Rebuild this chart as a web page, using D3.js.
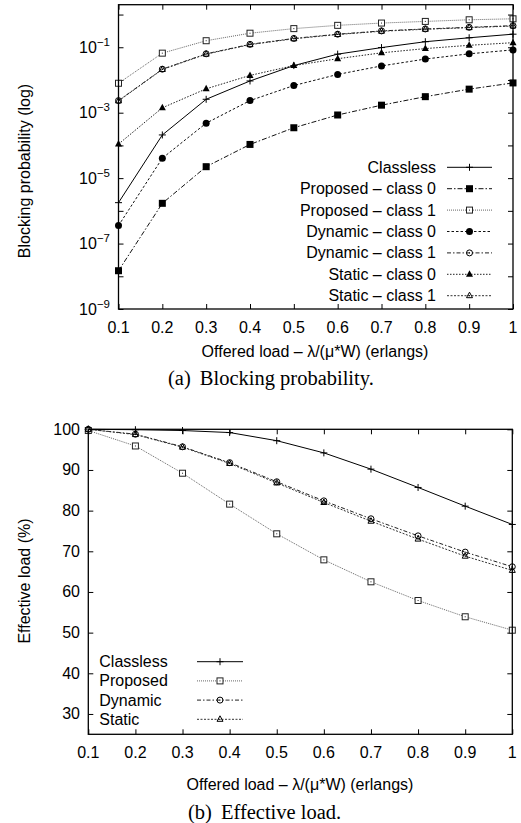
<!DOCTYPE html>
<html><head><meta charset="utf-8">
<script src="https://cdn.jsdelivr.net/npm/d3@7"></script>
<style>body{margin:0;background:#fff}svg{display:block}</style>
</head><body>
<script>
// ---------- data ----------
const loads = [0.1,0.2,0.3,0.4,0.5,0.6,0.7,0.8,0.9,1.0];
// blocking probability, log10 values
const classlessLog   = [-5.75,-3.68,-2.59,-2.03,-1.56,-1.21,-1.01,-0.83,-0.71,-0.60];
const proposed0Log   = [-7.83,-5.77,-4.65,-3.97,-3.46,-3.07,-2.77,-2.51,-2.28,-2.09];
const proposed1Log   = [-2.10,-1.18,-0.80,-0.57,-0.43,-0.33,-0.26,-0.21,-0.16,-0.13];
const dynamic0Log    = [-6.45,-4.39,-3.32,-2.63,-2.17,-1.83,-1.57,-1.36,-1.20,-1.08];
const dynamic1Log    = [-2.63,-1.67,-1.20,-0.91,-0.73,-0.60,-0.50,-0.44,-0.39,-0.34];
const static0Log     = [-3.96,-2.85,-2.27,-1.86,-1.56,-1.35,-1.17,-1.04,-0.94,-0.86];
const static1Log     = [-2.64,-1.68,-1.21,-0.92,-0.74,-0.61,-0.51,-0.45,-0.40,-0.35];
// effective load (%)
const classlessEff = [100,99.9,99.7,99.2,97.2,94.2,90.2,85.7,81.1,76.6];
const proposedEff  = [99.7,95.9,89.2,81.6,74.3,67.9,62.5,57.9,53.9,50.6];
const dynamicEff   = [100,98.8,95.7,91.8,87.1,82.4,78.0,73.8,69.8,66.2];
const staticEff    = [100,98.7,95.6,91.6,86.8,82.0,77.4,73.0,68.8,65.3];
// ticks
const xTicks = [0.1,0.2,0.3,0.4,0.5,0.6,0.7,0.8,0.9,1];
const xTickLabels = ["0.1","0.2","0.3","0.4","0.5","0.6","0.7","0.8","0.9","1"];
const logTickExps = [-9,-8,-7,-6,-5,-4,-3,-2,-1,0];
const logLabelExps = [-9,-7,-5,-3,-1];
const effTicks = [30,40,50,60,70,80,90,100];
const labelsA = ["Classless","Proposed – class 0","Proposed – class 1","Dynamic – class 0","Dynamic – class 1","Static – class 0","Static – class 1"];
const labelsB = ["Classless","Proposed","Dynamic","Static"];
const xLabel = "Offered load – λ/(μ*W) (erlangs)";

const W = 521, H = 823;
const FONT = "'Liberation Sans', Arial, Helvetica, sans-serif";
const SERIF = "'Liberation Serif', 'Times New Roman', serif";
const FS = 16;
const svg = d3.select("body").append("svg").attr("width", W).attr("height", H);

// line styles
const styles = {
  solid:   {dash:null, color:"#000", w:1},
  dashdot: {dash:"5,2,1.5,2", color:"#111", w:1},
  fine:    {dash:"1,1", color:"#666", w:1},
  dots:    {dash:"2.5,2", color:"#111", w:1},
  dashdot2:{dash:"4,2,1.5,2", color:"#222", w:1},
  dots2:   {dash:"1.5,1.5", color:"#222", w:1},
  dots3:   {dash:"2,1.5", color:"#333", w:1}
};

function marker(g, type, x, y) {
  const s = 3.5;
  const c = "#000";
  if (type === "plus") {
    g.append("path").attr("d", `M${x-s},${y}H${x+s}M${x},${y-s}V${y+s}`).attr("stroke", c).attr("stroke-width", 1).attr("fill","none");
  } else if (type === "fsquare") {
    g.append("rect").attr("x", x-s).attr("y", y-s).attr("width", 2*s).attr("height", 2*s).attr("fill", c);
  } else if (type === "osquare") {
    g.append("rect").attr("x", x-s+0.5).attr("y", y-s+0.5).attr("width", 2*s-1).attr("height", 2*s-1).attr("fill", "#fff").attr("stroke", "#222").attr("stroke-width", 1);
    g.append("rect").attr("x", x-0.5).attr("y", y-0.5).attr("width", 1).attr("height", 1).attr("fill", "#222");
  } else if (type === "fcircle") {
    g.append("circle").attr("cx", x).attr("cy", y).attr("r", s).attr("fill", c);
  } else if (type === "ocircle") {
    g.append("circle").attr("cx", x).attr("cy", y).attr("r", s-0.5).attr("fill", "none").attr("stroke", c).attr("stroke-width", 1);
    g.append("rect").attr("x", x-0.5).attr("y", y-0.5).attr("width", 1).attr("height", 1).attr("fill", c);
  } else if (type === "ftri") {
    g.append("path").attr("d", `M${x},${y-s-0.5}L${x+s},${y+s-1}L${x-s},${y+s-1}Z`).attr("fill", c);
  } else if (type === "otri") {
    g.append("path").attr("d", `M${x},${y-s}L${x+s-0.5},${y+s-1.5}L${x-s+0.5},${y+s-1.5}Z`).attr("fill", "none").attr("stroke", c).attr("stroke-width", 1);
    g.append("rect").attr("x", x-0.5).attr("y", y-0.5).attr("width", 1).attr("height", 1).attr("fill", c);
  }
}

function drawSeries(g, xs, ys, xScale, yScale, st, mk) {
  const line = d3.line().x((d,i)=>xScale(xs[i])).y(d=>yScale(d));
  g.append("path").datum(ys).attr("d", line).attr("fill","none")
    .attr("stroke", st.color).attr("stroke-width", st.w)
    .attr("stroke-dasharray", st.dash);
  ys.forEach((v,i)=>marker(g, mk, xScale(xs[i]), yScale(v)));
}

function legendSample(g, x1, x2, y, st, mk) {
  g.append("line").attr("x1", x1).attr("x2", x2).attr("y1", y).attr("y2", y)
    .attr("stroke", st.color).attr("stroke-width", st.w).attr("stroke-dasharray", st.dash);
  marker(g, mk, (x1+x2)/2, y);
}

function frame(g, x0, x1, y0, y1) {
  g.append("rect").attr("x", x0).attr("y", y0).attr("width", x1-x0).attr("height", y1-y0)
    .attr("fill","none").attr("stroke","#000").attr("stroke-width",1.3);
}

function ticks(g, x, y, xv, yv, L, R, T, B) {
  const tl = 5;
  const axB = d3.axisBottom(x).tickValues(xv).tickSize(-tl).tickFormat("");
  const axT = d3.axisTop(x).tickValues(xv).tickSize(-tl).tickFormat("");
  const axL = d3.axisLeft(y).tickValues(yv).tickSize(-tl).tickFormat("");
  const axR = d3.axisRight(y).tickValues(yv).tickSize(-tl).tickFormat("");
  [[axB,`translate(0,${B})`],[axT,`translate(0,${T})`],[axL,`translate(${L},0)`],[axR,`translate(${R},0)`]].forEach(([a,t])=>{
    const ag = g.append("g").attr("transform", t).call(a);
    ag.select(".domain").remove();
    ag.selectAll("line").attr("stroke","#000").attr("stroke-width",1);
  });
}

function caption(x, y, tag, txt) {
  const t = svg.append("text").attr("x", x).attr("y", y)
    .attr("font-family",SERIF).attr("font-size",20.5);
  t.append("tspan").text(tag);
  t.append("tspan").attr("dx", 9).text(txt);
}

// ============ Chart (a) ============
{
  const L = 118.5, R = 513, T = 4.7, B = 309;
  const x = d3.scaleLinear().domain([0.1,1]).range([L,R]);
  const y = d3.scaleLinear().domain([-9, Math.log10(2)]).range([B,T]);
  const g = svg.append("g");
  ticks(g, x, y, xTicks, logTickExps, L, R, T, B);
  xTicks.forEach((v,i)=>g.append("text").attr("x", x(v)).attr("y", B+23.5).attr("text-anchor","middle")
     .attr("font-family",FONT).attr("font-size",FS).text(xTickLabels[i]));
  logLabelExps.forEach(e=>{
    const t = g.append("text").attr("x", 110).attr("y", y(e)+5.5).attr("text-anchor","end")
      .attr("font-family",FONT).attr("font-size",FS);
    t.append("tspan").text("10");
    t.append("tspan").attr("dy",-7).attr("font-size",11.5).text("−"+Math.abs(e));
  });
  const series = [
    [classlessLog,"solid","plus"],
    [proposed0Log,"dashdot","fsquare"],
    [proposed1Log,"fine","osquare"],
    [dynamic0Log,"dots","fcircle"],
    [dynamic1Log,"dashdot2","ocircle"],
    [static0Log,"dots2","ftri"],
    [static1Log,"dots3","otri"]
  ];
  const sg = g.append("g");
  series.forEach(([d,st,mk])=>drawSeries(sg, loads, d, x, y, styles[st], mk));
  frame(g, L, R, T, B);
  series.forEach(([d,st,mk],i)=>{
    const yy = 167.3 + i*21.4;
    g.append("text").attr("x", 436).attr("y", yy+5.5).attr("text-anchor","end")
      .attr("font-family",FONT).attr("font-size",FS).text(labelsA[i]);
    legendSample(g, 447, 492, yy, styles[st], mk);
  });
  g.append("text").attr("x", 315).attr("y", 357).attr("text-anchor","middle")
    .attr("font-family",FONT).attr("font-size",FS).text(xLabel);
  g.append("text").attr("transform","translate(30,171) rotate(-90)").attr("text-anchor","middle")
    .attr("font-family",FONT).attr("font-size",FS).text("Blocking probability (log)");
  caption(168, 385, "(a)", "Blocking probability.");
}

// ============ Chart (b) ============
{
  const L = 88.3, R = 512.3, T = 429.3, B = 734.3;
  const x = d3.scaleLinear().domain([0.1,1]).range([L,R]);
  const y = d3.scaleLinear().domain([25,100]).range([B,T]);
  const g = svg.append("g");
  ticks(g, x, y, xTicks, effTicks, L, R, T, B);
  xTicks.forEach((v,i)=>g.append("text").attr("x", x(v)).attr("y", B+23.5).attr("text-anchor","middle")
     .attr("font-family",FONT).attr("font-size",FS).text(xTickLabels[i]));
  effTicks.forEach(v=>g.append("text").attr("x", 80).attr("y", y(v)+5.5).attr("text-anchor","end")
     .attr("font-family",FONT).attr("font-size",FS).text(v));
  const series = [
    [classlessEff,"solid","plus"],
    [proposedEff,"fine","osquare"],
    [dynamicEff,"dashdot2","ocircle"],
    [staticEff,"dots3","otri"]
  ];
  const sg = g.append("g");
  series.forEach(([d,st,mk])=>drawSeries(sg, loads, d, x, y, styles[st], mk));
  frame(g, L, R, T, B);
  series.forEach(([d,st,mk],i)=>{
    const yy = 661.7 + i*19.2;
    g.append("text").attr("x", 99.3).attr("y", yy+5.5).attr("text-anchor","start")
      .attr("font-family",FONT).attr("font-size",FS).text(labelsB[i]);
    legendSample(g, 197, 243, yy, styles[st], mk);
  });
  g.append("text").attr("x", 300).attr("y", 790).attr("text-anchor","middle")
    .attr("font-family",FONT).attr("font-size",FS).text(xLabel);
  g.append("text").attr("transform","translate(30,581) rotate(-90)").attr("text-anchor","middle")
    .attr("font-family",FONT).attr("font-size",FS).text("Effective load (%)");
  caption(188, 819, "(b)", "Effective load.");
}
</script>
</body></html>
